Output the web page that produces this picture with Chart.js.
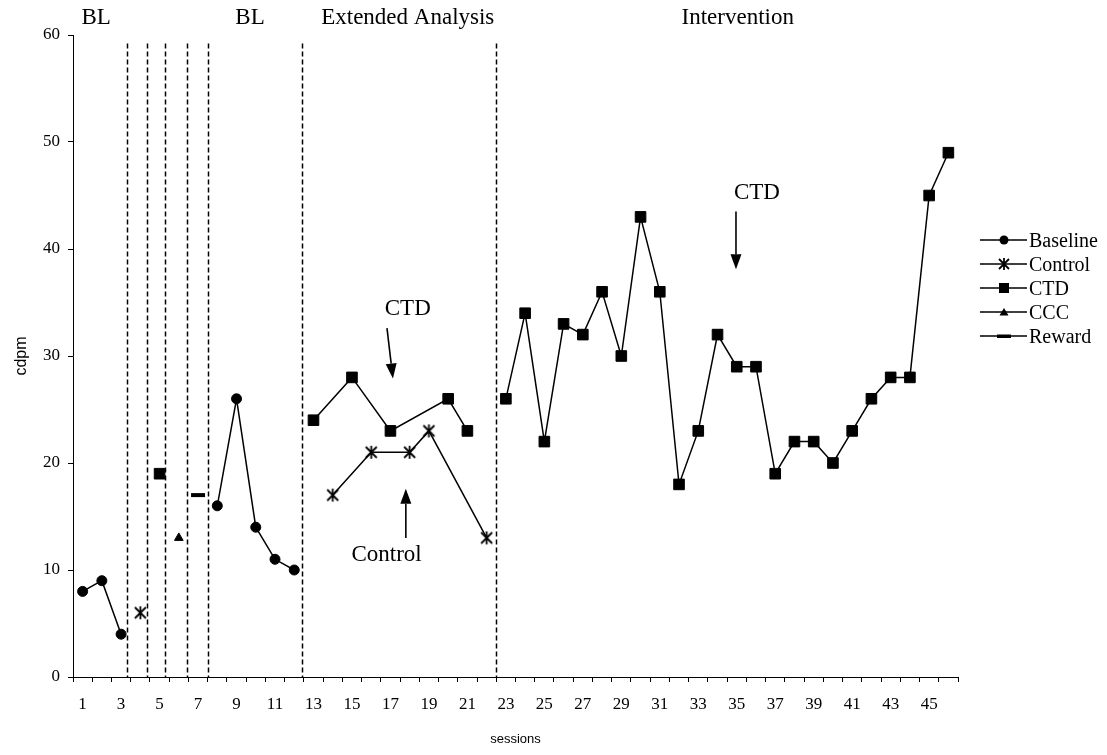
<!DOCTYPE html>
<html>
<head>
<meta charset="utf-8">
<script src="https://cdn.jsdelivr.net/npm/chart.js@4/dist/chart.umd.min.js"></script>
<style>
html, body { margin: 0; padding: 0; background: #fff; }
#wrap { position: relative; width: 1107px; height: 755px; }
canvas { display: block; }
#legend { position: absolute; left: 980px; top: 228px; font-family: "Liberation Serif", serif; font-size: 20px; color: #000; }
.item { display: flex; align-items: center; height: 24px; white-space: nowrap; }
.item svg { margin-right: 2px; }
</style>
</head>
<body>
<div id="wrap">
  <canvas id="c" width="1107" height="755"></canvas>
  <div id="legend"></div>
</div>
<script>
// ---------- data ----------
const sessions = ['1','2','3','4','5','6','7','8','9','10','11','12','13','14','15','16','17','18','19','20','21','22','23','24','25','26','27','28','29','30','31','32','33','34','35','36','37','38','39','40','41','42','43','44','45','46'];
const xTickLabels = ['1','3','5','7','9','11','13','15','17','19','21','23','25','27','29','31','33','35','37','39','41','43','45'];
const yTickValues = [0, 10, 20, 30, 40, 50, 60];

const baselineSessions = [1, 2, 3, 8, 9, 10, 11, 12];
const baselineValues   = [8, 9, 4, 16, 26, 14, 11, 10];

const controlSessions = [4, 14, 16, 18, 19, 22];
const controlValues   = [6, 17, 21, 21, 23, 13];

const ctdSessions = [5, 13, 15, 17, 20, 21, 23, 24, 25, 26, 27, 28, 29, 30, 31, 32, 33, 34, 35, 36, 37, 38, 39, 40, 41, 42, 43, 44, 45, 46];
const ctdValues   = [19, 24, 28, 23, 26, 23, 26, 34, 22, 33, 32, 36, 30, 43, 36, 18, 23, 32, 29, 29, 19, 22, 22, 20, 23, 26, 28, 28, 45, 49];

const cccSessions = [6];
const cccValues   = [13];

const rewardSessions = [7];
const rewardValues   = [17];

// phase-change lines (in session units, between sessions)
const phaseChanges = [3.3, 4.35, 5.3, 6.4, 7.5, 12.4, 22.5];

// phase titles
const phaseTitles = ['BL', 'BL', 'Extended Analysis', 'Intervention'];
const phaseTitleAt = [1.7, 9.7, 17.9, 35.05];

// ---------- helpers ----------
function toPoints(s, v) { return s.map((x, i) => ({ x: String(x), y: v[i] })); }
function crossesPhase(a, b) { return phaseChanges.some(p => p > Math.min(a, b) && p < Math.max(a, b)); }
const seg = { borderColor: ctx => crossesPhase(ctx.p0.parsed.x + 1, ctx.p1.parsed.x + 1) ? 'rgba(0,0,0,0)' : '#000' };

function makeAsterisk(size) {
  const c = document.createElement('canvas');
  c.width = size; c.height = size;
  const g = c.getContext('2d');
  g.strokeStyle = '#000'; g.lineWidth = 1.8;
  const m = 2, e = size - 2;
  g.beginPath();
  g.moveTo(m, m); g.lineTo(e, e);
  g.moveTo(e, m); g.lineTo(m, e);
  g.moveTo(size / 2, m - 1); g.lineTo(size / 2, e + 1);
  g.stroke();
  return c;
}
const asterisk = makeAsterisk(15);

const serif = '"Liberation Serif", "Times New Roman", serif';
const sans = '"Liberation Sans", Arial, sans-serif';

// ---------- plugin: phase lines, titles, annotations ----------
const annotations = {
  texts: [
    { text: 'CTD', s: 17.9, v: 34.4 },
    { text: 'Control', s: 16.8, v: 11.4 },
    { text: 'CTD', s: 36.05, v: 45.2 }
  ],
  arrows: [
    { s0: 16.82, v0: 32.6, s1: 17.13, v1: 27.9 },
    { s0: 17.8, v0: 13.0, s1: 17.8, v1: 17.6 },
    { s0: 34.96, v0: 43.5, s1: 34.96, v1: 38.1 }
  ]
};

const decorations = {
  id: 'decorations',
  beforeDatasetsDraw(chart) {
    const { ctx, scales: { x, y } } = chart;
    ctx.save();
    ctx.strokeStyle = '#000';
    ctx.lineWidth = 1.5;
    ctx.setLineDash([5, 3]);
    phaseChanges.forEach(p => {
      const px = Math.round(x.getPixelForValue(p - 1)) + 0.5;
      ctx.beginPath();
      ctx.moveTo(px, y.getPixelForValue(59.2));
      ctx.lineTo(px, y.getPixelForValue(0));
      ctx.stroke();
    });
    ctx.restore();
  },
  afterDraw(chart) {
    const { ctx, scales: { x, y } } = chart;
    ctx.save();
    ctx.fillStyle = '#000';
    ctx.textAlign = 'center';
    ctx.textBaseline = 'middle';
    ctx.font = '23px ' + serif;
    phaseTitles.forEach((t, i) => {
      ctx.fillText(t, x.getPixelForValue(phaseTitleAt[i] - 1), y.getPixelForValue(60) - 17);
    });
    annotations.texts.forEach(a => {
      ctx.fillText(a.text, x.getPixelForValue(a.s - 1), y.getPixelForValue(a.v));
    });
    ctx.strokeStyle = '#000';
    ctx.lineWidth = 1.6;
    annotations.arrows.forEach(a => {
      const x0 = x.getPixelForValue(a.s0 - 1), y0 = y.getPixelForValue(a.v0);
      const x1 = x.getPixelForValue(a.s1 - 1), y1 = y.getPixelForValue(a.v1);
      const ang = Math.atan2(y1 - y0, x1 - x0);
      const L = 15, W = 5.5;
      const bx = x1 - Math.cos(ang) * L, by = y1 - Math.sin(ang) * L;
      ctx.beginPath(); ctx.moveTo(x0, y0); ctx.lineTo(bx, by); ctx.stroke();
      ctx.beginPath();
      ctx.moveTo(x1, y1);
      ctx.lineTo(bx + Math.sin(ang) * W, by - Math.cos(ang) * W);
      ctx.lineTo(bx - Math.sin(ang) * W, by + Math.cos(ang) * W);
      ctx.closePath(); ctx.fill();
    });
    ctx.restore();
  }
};

// ---------- chart ----------
const common = { borderColor: '#000', borderWidth: 1.5, spanGaps: true, segment: seg, pointBackgroundColor: '#000', pointBorderColor: '#000', fill: false, tension: 0 };

new Chart(document.getElementById('c'), {
  type: 'line',
  data: {
    labels: sessions,
    datasets: [
      Object.assign({ label: 'Baseline', data: toPoints(baselineSessions, baselineValues), pointStyle: 'circle', pointRadius: 5, pointBorderWidth: 1 }, common),
      Object.assign({ label: 'Control', data: toPoints(controlSessions, controlValues), pointStyle: asterisk, pointRadius: 7 }, common),
      Object.assign({ label: 'CTD', data: toPoints(ctdSessions, ctdValues), pointStyle: 'rect', pointRadius: 7.5, pointBorderWidth: 1 }, common),
      Object.assign({ label: 'CCC', data: toPoints(cccSessions, cccValues), pointStyle: 'triangle', pointRadius: 5, pointBorderWidth: 1 }, common),
      Object.assign({ label: 'Reward', data: toPoints(rewardSessions, rewardValues), pointStyle: 'line', pointRadius: 7, pointBorderWidth: 4 }, common)
    ]
  },
  options: {
    responsive: false,
    animation: false,
    events: [],
    layout: { padding: { top: 35, right: 149, bottom: 0, left: 0 } },
    plugins: { legend: { display: false }, tooltip: { enabled: false } },
    scales: {
      x: {
        type: 'category',
        offset: true,
        grid: { display: true, drawOnChartArea: false, drawTicks: true, tickLength: 5, offset: true, color: '#000', lineWidth: 1 },
        border: { display: true, color: '#000', width: 1 },
        ticks: {
          autoSkip: false, maxRotation: 0, minRotation: 0, color: '#000', padding: 12,
          font: { family: serif, size: 17 },
          callback: function (v, i) { const l = sessions[i]; return xTickLabels.includes(l) ? l : ''; }
        },
        title: { display: true, text: 'sessions', color: '#000', font: { family: sans, size: 13 }, padding: { top: 0, bottom: 8 } },
        afterFit: s => { s.height = 78; }
      },
      y: {
        type: 'linear', min: 0, max: 60,
        afterBuildTicks: s => { s.ticks = yTickValues.map(v => ({ value: v })); },
        grid: { display: true, drawOnChartArea: false, drawTicks: true, tickLength: 5, color: '#000', lineWidth: 1 },
        border: { display: true, color: '#000', width: 1 },
        ticks: { color: '#000', padding: 8, font: { family: serif, size: 17 } },
        title: { display: true, text: 'cdpm', color: '#000', font: { family: sans, size: 16 }, padding: { top: 12, bottom: 0 } },
        afterFit: s => { s.width = 73; }
      }
    }
  },
  plugins: [decorations]
});

// ---------- HTML legend ----------
const legendItems = [
  { label: 'Baseline', marker: '<circle cx="24" cy="12" r="4.5" fill="#000"/>' },
  { label: 'Control', marker: '<path d="M19 7 L29 17 M29 7 L19 17 M24 6 L24 18" stroke="#000" stroke-width="1.8"/>' },
  { label: 'CTD', marker: '<rect x="19" y="7" width="10" height="10" fill="#000"/>' },
  { label: 'CCC', marker: '<path d="M24 8 L28.5 15.5 L19.5 15.5 Z" fill="#000"/>' },
  { label: 'Reward', marker: '<rect x="17" y="10.5" width="14" height="3.5" fill="#000"/>' }
];
document.getElementById('legend').innerHTML = legendItems.map(it =>
  '<div class="item"><svg width="47" height="24" viewBox="0 0 47 24"><line x1="0" y1="12" x2="47" y2="12" stroke="#000" stroke-width="1.3"/>' +
  it.marker + '</svg><span>' + it.label + '</span></div>'
).join('');
</script>
</body>
</html>
